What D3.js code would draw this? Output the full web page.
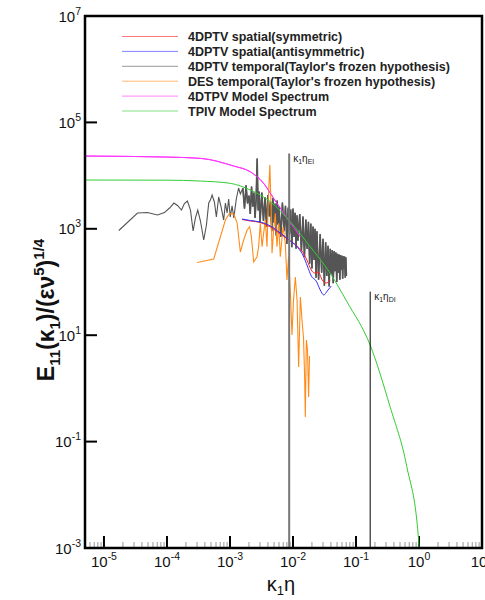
<!DOCTYPE html>
<html><head><meta charset="utf-8">
<script src="https://cdn.jsdelivr.net/npm/d3@7/dist/d3.min.js"></script>
<style>body{margin:0;background:#fff}svg{display:block}</style>
</head><body><svg id="c" width="485" height="600"></svg>
<script>
// ---------- data ----------
const legendLabels = [
  "4DPTV spatial(symmetric)",
  "4DPTV spatial(antisymmetric)",
  "4DPTV temporal(Taylor's frozen hypothesis)",
  "DES temporal(Taylor's frozen hypothesis)",
  "4DTPV Model Spectrum",
  "TPIV Model Spectrum"
];
const seriesColors = ["#ff2020", "#3030ff", "#555555", "#ff8c1a", "#ff33ff", "#33cc33"];
const xTickExps = [-5, -4, -3, -2, -1, 0, 1];
const yTickExps = [7, 5, 3, 1, -1, -3];

const spatialSym = [[1.556e-3,1496],[2.10e-3,1403],[3.03e-3,1313],[4.37e-3,1081],[6.29e-3,798],[9.06e-3,590],[1.21e-2,455],[1.46e-2,351],[1.69e-2,248],[1.95e-2,168],[2.18e-2,148],[2.52e-2,154],[2.91e-2,109],[3.37e-2,95.7],[3.90e-2,109]];
const spatialAnti = [[1.556e-3,1528],[2.10e-3,1432],[3.03e-3,1343],[4.37e-3,1130],[6.29e-3,834],[9.06e-3,590],[1.21e-2,436],[1.46e-2,308],[1.69e-2,200],[1.95e-2,130],[2.34e-2,104],[2.71e-2,70.8],[3.08e-2,57],[3.50e-2,67.8],[4.05e-2,84]];
const temporal4D = [
  [1.72e-5,929],[3.41e-5,1980],[4.91e-5,2020],[7.06e-5,1820],[9.12e-5,2020],[1.10e-4,2460],[1.29e-4,3050],[1.47e-4,2740],[1.70e-4,2250],[1.89e-4,2990],[2.11e-4,3330],[2.36e-4,2250],[2.60e-4,910],[2.83e-4,1600],[3.08e-4,2250],[3.40e-4,1400],[3.83e-4,616],[4.23e-4,1180],[4.60e-4,3050],[4.89e-4,3470],[5.20e-4,4320],[5.66e-4,3190],[6.08e-4,1670],[6.62e-4,3960],[7.23e-4,2570],[7.94e-4,1460],[8.46e-4,3050],[9.00e-4,1980],[9.53e-4,3630],[1.01e-3,1670],[1.08e-3,2690],[1.15e-3,1600],[1.26e-3,3630],[1.37e-3,5850],[1.46e-3,4510],
  [0.0016,5800],[0.0017,2400],[0.0018,6600],[0.0019,3000],[0.0020,4200],[0.0021,1900],[0.0022,6200],[0.0023,2600],[0.0024,4800],[0.0025,1600],[0.0026,3500],[0.0027,21000],[0.0028,2200],[0.0029,5000],[0.0030,1300],
  [0.0032,4800],[0.0034,1400],[0.0036,3900],[0.0038,1100],[0.0040,4300],[0.0042,1700],[0.0044,3200],[0.0046,900],[0.0048,3800],[0.0050,1300],[0.0052,3000],[0.0054,750],[0.0056,3400],[0.0058,1200],[0.0060,2600],
  [0.0064,700],[0.0068,3100],[0.0072,900],[0.0076,2700],[0.0080,520],[0.0084,2500],[0.0088,800],[0.0092,2300],[0.0096,450],[0.0100,2400],[0.0104,700],[0.0108,2000],[0.0112,420],[0.0116,1800],[0.0120,600],
  [0.0128,1900],[0.0136,380],[0.0144,1700],[0.0152,300],[0.0160,1500],[0.0168,420],[0.0176,1350],[0.0184,220],[0.0192,1250],[0.0200,180],[0.0208,1100],[0.0216,260],[0.0224,1000],[0.0232,120],[0.0240,900],
  [0.0255,110],[0.0270,800],[0.0285,150],[0.0300,650],[0.0315,85],[0.0330,560],[0.0345,130],[0.0360,480],[0.0375,82],[0.0390,420],[0.0405,140],[0.0420,400],[0.0435,95],[0.0450,380],[0.0465,160],[0.0480,360],[0.0495,100],[0.0510,340],[0.0525,150],[0.0540,330],[0.0555,110],[0.0570,320],[0.0585,170],[0.0600,310],[0.0615,115],[0.0630,305],[0.0645,180],[0.0660,300],[0.0675,120],[0.0690,290],[0.0705,130]
];
const desTemporal = [[3.01e-4,233],[5.52e-4,270],[8.46e-4,1460],[9.78e-4,1940],[1.15e-3,1900],[1.30e-3,1285],[1.46e-3,366],[1.65e-3,616],[1.87e-3,950],[2.05e-3,1094],[2.18e-3,732],[2.38e-3,238],[2.69e-3,299],[2.85e-3,461],[3.03e-3,1268],[3.23e-3,461],[3.42e-3,822],[3.64e-3,1460],[3.87e-3,461],[4.06e-3,3470],[4.29e-3,15800],[4.53e-3,1820],[4.65e-3,346],[4.93e-3,950],[5.24e-3,1955],[5.57e-3,461],[5.92e-3,1268],[6.29e-3,299],[6.95e-3,1094],[7.55e-3,533],[8.03e-3,109],[8.51e-3,299],[9.06e-3,70.8],[9.64e-3,10.1],[1.02e-2,45.9],[1.09e-2,124],[1.16e-2,45.9],[1.23e-2,2.52],[1.31e-2,52.2],[1.39e-2,19.3],[1.47e-2,8.85],[1.53e-2,1.64],[1.57e-2,0.29],[1.63e-2,8.13],[1.70e-2,5.27],[1.77e-2,0.69],[1.83e-2,4.06]];
const model4D = [[5e-6,23300],[1e-4,22300],[3.4e-4,21100],[1.15e-3,15100],[2.1e-3,11800],[3.42e-3,7160],[4.93e-3,3740],[8.03e-3,1600],[1.31e-2,711],[2.12e-2,295]];
const modelTPIV = [[5e-6,8260],[1e-4,8200],[3.4e-4,7900],[1.01e-3,7160],[2.1e-3,5360],[4.37e-3,3230],[9.06e-3,1360],[1.88e-2,460],[3.9e-2,146],[7.18e-2,42.6],[0.168,6.5],[0.348,0.45],[0.64,0.034],[0.978,1.6e-3],[1.0,1e-3]];
const markerLines = [{x: 8.7e-3, top: 2.6e4, sub: "EI"}, {x: 0.168, top: 66, sub: "DI"}];

// ---------- layout ----------
const svg = d3.select("#c");
const L = 85, R = 482, T = 16, B = 548;
const x = d3.scaleLog().domain([5e-6, 10]).range([L, R]);
const y = d3.scaleLog().domain([1e-3, 1e7]).range([B, T]);
const FONT = "'Liberation Sans', Arial, sans-serif";

svg.append("defs").append("clipPath").attr("id","clip")
  .append("rect").attr("x",L).attr("y",T).attr("width",R-L).attr("height",B-T);

// minor x ticks
const minor = [];
for (let e = -6; e <= 0; e++) for (let m = 2; m <= 9; m++) { const v = m * Math.pow(10, e); if (v > 5e-6 && v < 10) minor.push(v); }
svg.append("g").selectAll("line").data(minor).join("line")
  .attr("x1", d => x(d)).attr("x2", d => x(d)).attr("y1", B).attr("y2", B - 6)
  .attr("stroke", "#999").attr("stroke-width", 1);
// major x ticks
svg.append("g").selectAll("line").data(xTickExps.slice(0, 6)).join("line")
  .attr("x1", d => x(Math.pow(10, d))).attr("x2", d => x(Math.pow(10, d))).attr("y1", B).attr("y2", B - 12)
  .attr("stroke", "#000").attr("stroke-width", 2);
// major y ticks
svg.append("g").selectAll("line").data(yTickExps.slice(1, 5)).join("line")
  .attr("x1", L).attr("x2", L + 12).attr("y1", d => y(Math.pow(10, d))).attr("y2", d => y(Math.pow(10, d)))
  .attr("stroke", "#000").attr("stroke-width", 2);

// tick labels
const xl = svg.append("g").attr("font-family", FONT).attr("fill", "#111");
xTickExps.forEach(e => {
  const t = xl.append("text").attr("x", x(Math.pow(10, e))).attr("y", 567).attr("text-anchor", "middle").attr("font-size", 15);
  t.append("tspan").text("10");
  t.append("tspan").attr("dy", -7).attr("font-size", 10.5).text(String(e));
});
yTickExps.forEach(e => {
  const t = xl.append("text").attr("x", 81).attr("y", y(Math.pow(10, e)) + 5.5).attr("text-anchor", "end").attr("font-size", 15);
  t.append("tspan").text("10");
  t.append("tspan").attr("dy", -7).attr("font-size", 10.5).text(String(e));
});

// axis titles
const yt = svg.append("text").attr("transform", "translate(54,310) rotate(-90)").attr("text-anchor", "middle")
  .attr("font-family", FONT).attr("font-weight", "bold").attr("font-size", 23).attr("fill", "#111");
function part(t, s, kind) {
  const ts = t.append("tspan").text(s);
  if (kind === "sub") ts.attr("dy", 6).attr("font-size", 15);
  if (kind === "sup") ts.attr("dy", -10).attr("font-size", 15);
  return ts;
}
part(yt, "E"); part(yt, "11", "sub"); yt.append("tspan").attr("dy", -6).text("(κ");
part(yt, "1", "sub"); yt.append("tspan").attr("dy", -6).text(")/(εν"); part(yt, "5", "sup");
yt.append("tspan").attr("dy", 10).text(")"); part(yt, "1/4", "sup");

const xt = svg.append("text").attr("x", 281).attr("y", 591).attr("text-anchor", "middle")
  .attr("font-family", FONT).attr("font-size", 20).attr("fill", "#111");
xt.append("tspan").text("κ"); xt.append("tspan").attr("dy", 4).attr("font-size", 13).text("1");
xt.append("tspan").attr("dy", -4).text("η");

// series
const line = d3.line().x(d => x(d[0])).y(d => y(d[1]));
const smooth = d3.line().x(d => x(d[0])).y(d => y(d[1])).curve(d3.curveMonotoneX);
const g = svg.append("g").attr("clip-path", "url(#clip)").attr("fill", "none");
g.append("path").datum(model4D).attr("d", smooth).attr("stroke", seriesColors[4]).attr("stroke-width", 1);
g.append("path").datum(temporal4D).attr("d", line).attr("stroke", seriesColors[2]).attr("stroke-width", 1.1);
g.append("path").datum(temporal4D.filter(d => d[0] >= 0.0016)).attr("d", line).attr("stroke", seriesColors[2]).attr("stroke-width", 1.6);
g.append("path").datum(desTemporal).attr("d", line).attr("stroke", seriesColors[3]).attr("stroke-width", 1.1);
g.append("path").datum(spatialSym).attr("d", smooth).attr("stroke", seriesColors[0]).attr("stroke-width", 1);
g.append("path").datum(spatialAnti).attr("d", smooth).attr("stroke", seriesColors[1]).attr("stroke-width", 1);
g.append("path").datum(model4D.filter(d => d[0] <= 1.31e-2)).attr("d", smooth).attr("stroke", seriesColors[4]).attr("stroke-width", 1);
g.append("path").datum(modelTPIV).attr("d", smooth).attr("stroke", seriesColors[5]).attr("stroke-width", 1);

// marker lines
markerLines.forEach((m, i) => {
  svg.append("line").attr("x1", x(m.x)).attr("x2", x(m.x)).attr("y1", B).attr("y2", y(m.top))
    .attr("stroke", i === 0 ? "#777" : "#000").attr("stroke-width", i === 0 ? 2 : 1);
  const t = svg.append("text").attr("x", x(m.x) + 4).attr("y", y(m.top) + 8)
    .attr("font-family", FONT).attr("font-size", 10).attr("fill", "#222");
  t.append("tspan").text("κ"); t.append("tspan").attr("dy", 2).attr("font-size", 7).text("1");
  t.append("tspan").attr("dy", -2).text("η"); t.append("tspan").attr("dy", 2).attr("font-size", 7).text(m.sub);
});

// legend
const lg = svg.append("g");
legendLabels.forEach((lab, i) => {
  const yy = 36.5 + i * 14.9;
  lg.append("line").attr("x1", 122).attr("x2", 178).attr("y1", yy).attr("y2", yy)
    .attr("stroke", seriesColors[i]).attr("stroke-width", 1).attr("opacity", 0.6);
  lg.append("text").attr("x", 188).attr("y", yy + 4.5).attr("font-family", FONT).attr("font-weight", "bold")
    .attr("font-size", 12.5).attr("fill", "#222").text(lab);
});

// frame
svg.append("rect").attr("x", L).attr("y", T).attr("width", R - L).attr("height", B - T)
  .attr("fill", "none").attr("stroke", "#000").attr("stroke-width", 2.5);
</script></body></html>
